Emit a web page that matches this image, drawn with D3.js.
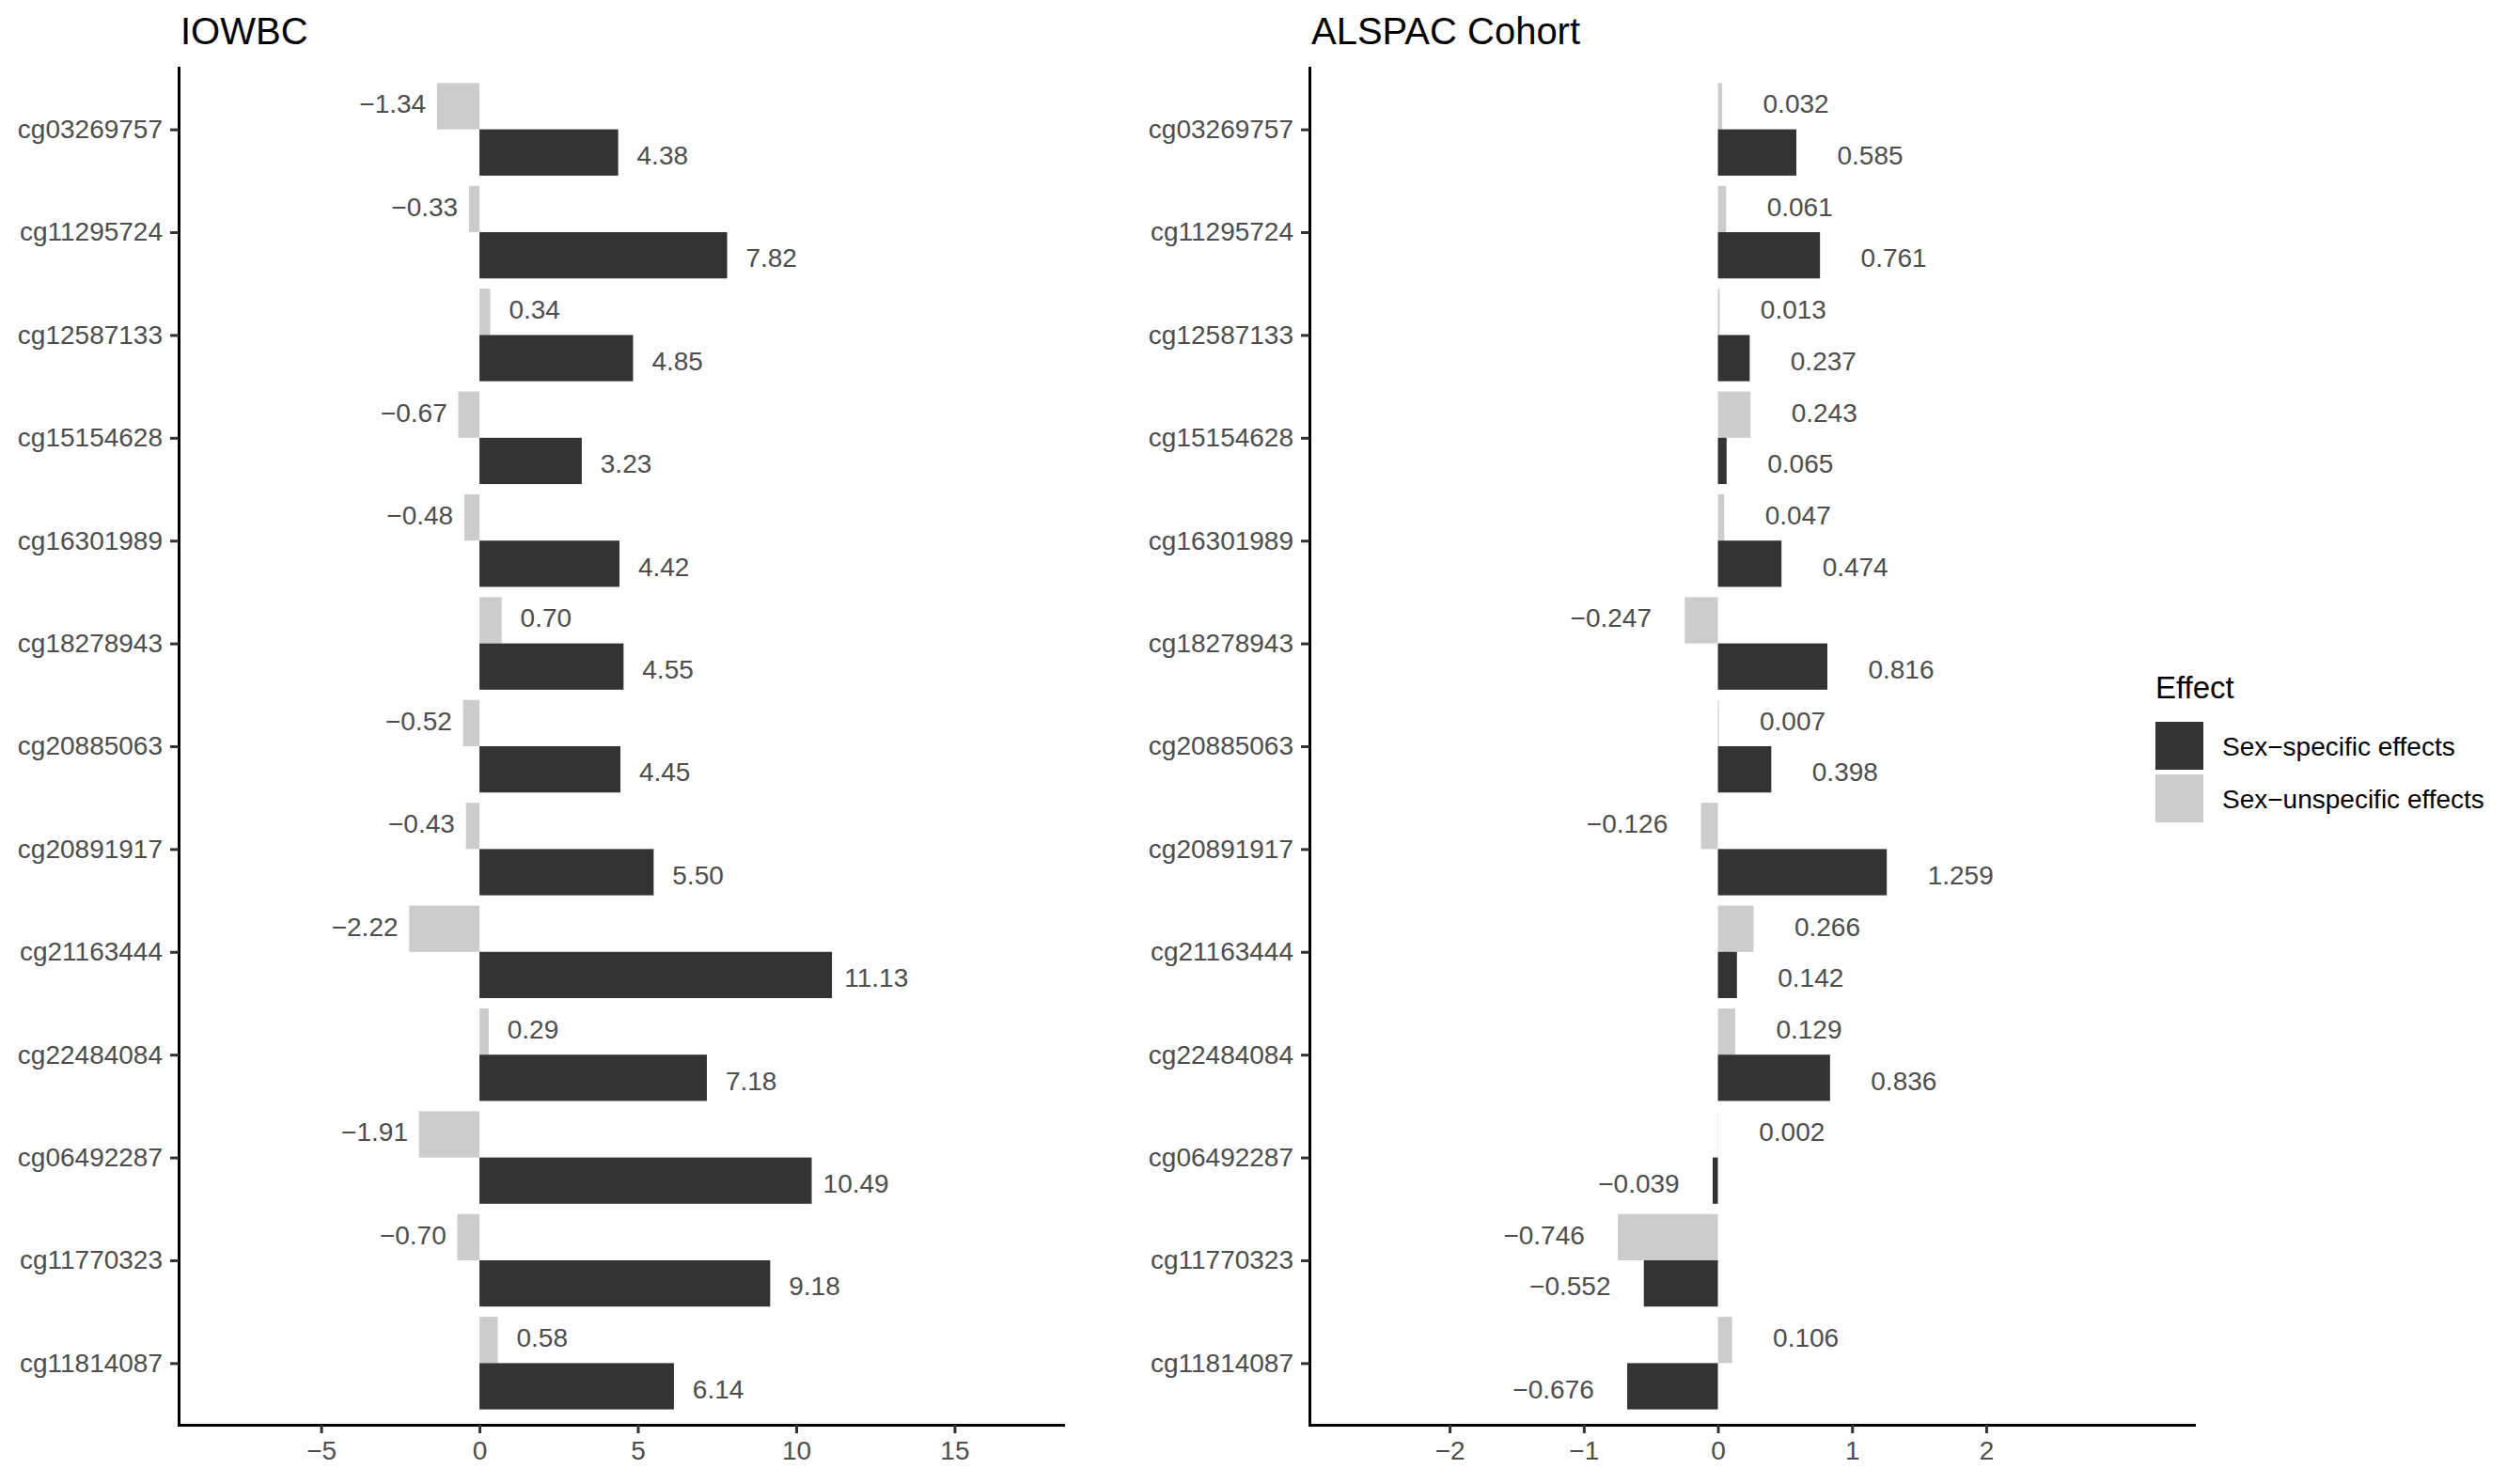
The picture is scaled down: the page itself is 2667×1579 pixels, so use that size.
<!DOCTYPE html>
<html>
<head>
<meta charset="utf-8">
<script src="https://cdn.jsdelivr.net/npm/d3@7"></script>
<style>
  body { margin: 0; background: #fff; }
  text { font-family: "Liberation Sans", Arial, sans-serif; }
</style>
</head>
<body>
<div class="chart"></div>
<script>
var categories = ["cg03269757", "cg11295724", "cg12587133", "cg15154628", "cg16301989",
  "cg18278943", "cg20885063", "cg20891917", "cg21163444", "cg22484084",
  "cg06492287", "cg11770323", "cg11814087"];

var effects = ["Sex\u2212specific effects", "Sex\u2212unspecific effects"];
var effectColors = ["#333333", "#cccccc"];

// IOWBC
var iowbcSpecific = [4.38, 7.82, 4.85, 3.23, 4.42, 4.55, 4.45, 5.50, 11.13, 7.18, 10.49, 9.18, 6.14];
var iowbcUnspecific = [-1.34, -0.33, 0.34, -0.67, -0.48, 0.70, -0.52, -0.43, -2.22, 0.29, -1.91, -0.70, 0.58];
var iowbcTicks = [-5, 0, 5, 10, 15];

// ALSPAC
var alspacSpecific = [0.585, 0.761, 0.237, 0.065, 0.474, 0.816, 0.398, 1.259, 0.142, 0.836, -0.039, -0.552, -0.676];
var alspacUnspecific = [0.032, 0.061, 0.013, 0.243, 0.047, -0.247, 0.007, -0.126, 0.266, 0.129, 0.002, -0.746, 0.106];
var alspacTicks = [-2, -1, 0, 1, 2];

(function() {
  var width = 2667, height = 1579;
  var plotTop = 72, plotBottom = 1516;

  var svg = d3.select(".chart").append("svg")
    .attr("width", width)
    .attr("height", height);

  var y = d3.scalePoint().domain(categories).range([plotTop, plotBottom]).padding(0.6);
  var barH = y.step() * 0.45;
  var labOff = y.step() * 0.25;   // labels dodged a bit wider than the bars

  var panels = [
    {title: "IOWBC", left: 190, right: 1131, domain: [-9.5, 18.43], ticks: iowbcTicks,
      specific: iowbcSpecific, unspecific: iowbcUnspecific, fmt: d3.format(".2f"), nudge: 1.4},
    {title: "ALSPAC Cohort", left: 1393, right: 2334, domain: [-3.045, 3.549], ticks: alspacTicks,
      specific: alspacSpecific, unspecific: alspacUnspecific, fmt: d3.format(".3f"), nudge: 0.55}
  ];

  panels.forEach(function(p) {
    var x = d3.scaleLinear().domain(p.domain).range([p.left, p.right]);
    var g = svg.append("g");

    // unspecific bar on top, specific below
    var rows = [];
    categories.forEach(function(c, i) {
      rows.push({cat: c, value: p.unspecific[i], k: 1, off: -barH, loff: -labOff});
      rows.push({cat: c, value: p.specific[i], k: 0, off: 0, loff: labOff});
    });

    g.selectAll("rect.bar")
      .data(rows)
      .enter().append("rect")
        .attr("class", "bar")
        .attr("x", function(d) { return x(Math.min(0, d.value)); })
        .attr("width", function(d) { return Math.abs(x(d.value) - x(0)); })
        .attr("y", function(d) { return y(d.cat) + d.off; })
        .attr("height", barH)
        .attr("fill", function(d) { return effectColors[d.k]; });

    g.selectAll("text.lab")
      .data(rows)
      .enter().append("text")
        .attr("class", "lab")
        .attr("x", function(d) { return x(d.value + (d.value < 0 ? -p.nudge : p.nudge)); })
        .attr("y", function(d) { return y(d.cat) + d.loff; })
        .attr("dy", "0.36em")
        .attr("text-anchor", "middle")
        .attr("font-size", 28)
        .attr("fill", "#4d4d4d")
        .text(function(d) { return p.fmt(d.value); });

    var ay = g.append("g")
      .attr("transform", "translate(" + p.left + ",0)")
      .call(d3.axisLeft(y).tickSize(9).tickSizeOuter(0).tickPadding(8));
    var ax = g.append("g")
      .attr("transform", "translate(0," + plotBottom + ")")
      .call(d3.axisBottom(x).tickValues(p.ticks).tickFormat(d3.format("")).tickSize(9).tickSizeOuter(0).tickPadding(8));

    [ay, ax].forEach(function(a) {
      a.select(".domain").attr("stroke", "#000").attr("stroke-width", 3).attr("stroke-linecap", "square");
      a.selectAll(".tick line").attr("stroke", "#333").attr("stroke-width", 3);
      a.selectAll(".tick text").attr("font-size", 28).attr("fill", "#4d4d4d")
        .style("font-family", "'Liberation Sans', Arial, sans-serif");
    });

    g.append("text")
      .attr("x", p.left + 2)
      .attr("y", 47)
      .attr("font-size", 40)
      .attr("fill", "#000")
      .text(p.title);
  });

  // legend
  var lg = svg.append("g").attr("transform", "translate(2293,0)");
  lg.append("text")
    .attr("x", 0)
    .attr("y", 743)
    .attr("font-size", 33)
    .attr("fill", "#000")
    .text("Effect");
  var li = lg.selectAll("g.item")
    .data(effects)
    .enter().append("g")
      .attr("class", "item")
      .attr("transform", function(d, i) { return "translate(0," + (768 + i * 56) + ")"; });
  li.append("rect")
    .attr("width", 51)
    .attr("height", 51)
    .attr("fill", function(d, i) { return effectColors[i]; });
  li.append("text")
    .attr("x", 71)
    .attr("y", 26)
    .attr("dy", "0.36em")
    .attr("font-size", 28)
    .attr("fill", "#000")
    .text(function(d) { return d; });
})();
</script>
</body>
</html>
